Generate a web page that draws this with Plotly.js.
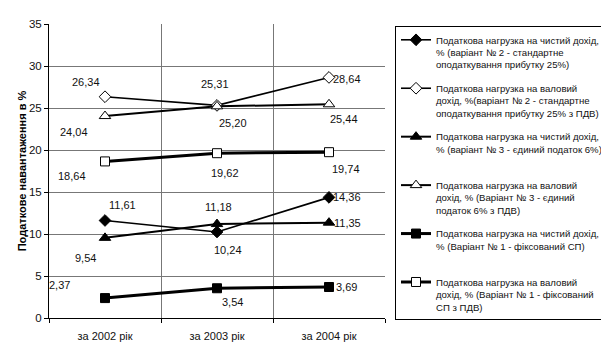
<!DOCTYPE html>
<html>
<head>
<meta charset="utf-8">
<script src="https://cdn.plot.ly/plotly-3.0.1.min.js"></script>
<style>html,body{margin:0;padding:0;background:#fff;}#chart{width:601px;height:360px;}</style>
</head>
<body>
<div id="chart"></div>
<script>
// ---- data ----
const categories = ['за 2002 рік', 'за 2003 рік', 'за 2004 рік'];
const netVar2   = [11.61, 10.24, 14.36];
const grossVar2 = [26.34, 25.31, 28.64];
const netVar3   = [9.54, 11.18, 11.35];
const grossVar3 = [24.04, 25.20, 25.44];
const netVar1   = [2.37, 3.54, 3.69];
const grossVar1 = [18.64, 19.62, 19.74];
const seriesNames = [
  'Податкова нагрузка на чистий дохід,<br>% (варіант № 2 - стандартне<br>оподаткування прибутку 25%)',
  'Податкова нагрузка на валовий<br>дохід, %(варіант № 2 - стандартне<br>оподаткування прибутку 25% з ПДВ)',
  'Податкова нагрузка на чистий дохід,<br>% (варіант № 3 - єдиний податок 6%)<br>&nbsp;',
  'Податкова нагрузка на валовий<br>дохід, % (Варіант № 3 - єдиний<br>податок 6% з ПДВ)',
  'Податкова нагрузка на чистий дохід,<br>% (Варіант № 1 - фіксований СП)<br>&nbsp;',
  'Податкова нагрузка на валовий<br>дохід, % (Варіант № 1 - фіксований<br>СП з ПДВ)'
];
const yTicks = [0, 5, 10, 15, 20, 25, 30, 35];

// ---- styling ----
const FONT = '"Liberation Sans", Arial, sans-serif';
const FS = 9.6;
const xPos = categories.map((c, i) => i + 1);
const allSeries = [netVar2, grossVar2, netVar3, grossVar3, netVar1, grossVar1];
const styles = [
  {symbol: 'diamond', fill: '#000', size: 9, width: 1.6},
  {symbol: 'diamond', fill: '#fff', size: 9, width: 1.6},
  {symbol: 'triangle-up', fill: '#000', size: 10, width: 2},
  {symbol: 'triangle-up', fill: '#fff', size: 10, width: 2},
  {symbol: 'square', fill: '#000', size: 9, width: 3},
  {symbol: 'square', fill: '#fff', size: 9, width: 3}
];
// label offsets in pixels [dx, dy(up)] per series & point
const labelShift = [
  [[17, 15], [11, -18], [18, 0]],
  [[-19, 15], [-2, 21], [18, -2]],
  [[-20, -20], [1, 17], [18, 0]],
  [[-31, -16], [16, -17], [15, -15]],
  [[-46, 13], [15, -14], [17, 0]],
  [[-33, -15], [8, -20], [17, -17]]
];

const traces = allSeries.map((vals, s) => ({
  type: 'scatter', mode: 'lines+markers',
  x: xPos, y: vals, name: seriesNames[s], legendgroup: 'g' + s,
  line: {color: '#000', width: styles[s].width},
  marker: {symbol: styles[s].symbol, size: styles[s].size, color: styles[s].fill,
           line: {color: '#000', width: 1}},
  xaxis: 'x', yaxis: 'y', cliponaxis: false
}));
// helper trace for vertical gridlines between categories
traces.push({type: 'scatter', x: [0.5, 3.5], y: [0, 0], mode: 'none', showlegend: false,
             hoverinfo: 'skip', xaxis: 'x2', yaxis: 'y'});

const annotations = [];
allSeries.forEach((vals, s) => {
  vals.forEach((v, i) => {
    annotations.push({
      x: xPos[i], y: v, xref: 'x', yref: 'y', showarrow: false,
      text: v.toFixed(2).replace('.', ','),
      xshift: labelShift[s][i][0], yshift: labelShift[s][i][1],
      font: {family: FONT, size: 11, color: '#111'}
    });
  });
});

const layout = {
  width: 601, height: 360,
  margin: {l: 49, r: 216, t: 24, b: 42, autoexpand: false},
  paper_bgcolor: '#fff', plot_bgcolor: '#fff',
  font: {family: FONT, size: FS, color: '#111'},
  xaxis: {
    range: [0.5, 3.5], tickvals: xPos, ticktext: categories,
    showgrid: false, zeroline: false, showline: true, linecolor: '#000', linewidth: 1,
    ticks: 'outside', ticklen: 8, tickcolor: 'rgba(0,0,0,0)',
    tickfont: {family: FONT, size: 11, color: '#111'}
  },
  xaxis2: {
    overlaying: 'x', anchor: 'y', range: [0.5, 3.5],
    tickvals: [0.5, 1.5, 2.5, 3.5], showticklabels: false,
    showgrid: true, gridcolor: '#777', gridwidth: 1,
    ticks: 'outside', ticklen: 4, tickcolor: '#000', zeroline: false, showline: false
  },
  yaxis: {
    range: [0, 35], tickvals: yTicks, ticktext: yTicks.map(String),
    showgrid: true, gridcolor: '#777', gridwidth: 1, zeroline: false,
    showline: true, linecolor: '#000', linewidth: 1,
    ticks: 'outside', ticklen: 4, tickcolor: '#000',
    tickfont: {family: FONT, size: 11.5, color: '#111'},
    title: {text: 'Податкове навантаження в %', standoff: 0,
            font: {family: FONT, size: 11, color: '#000', weight: 'bold'}}
  },
  legend: {
    x: 1.0298, xanchor: 'left', y: 0.993, yanchor: 'top',
    bgcolor: '#fff', bordercolor: '#000', borderwidth: 1,
    font: {family: FONT, size: FS, color: '#111'},
    valign: 'top', tracegroupgap: 8, itemwidth: 30
  },
  annotations: annotations,
  showlegend: true
};

Plotly.newPlot('chart', traces, layout, {displayModeBar: false, staticPlot: true});
</script>
</body>
</html>
